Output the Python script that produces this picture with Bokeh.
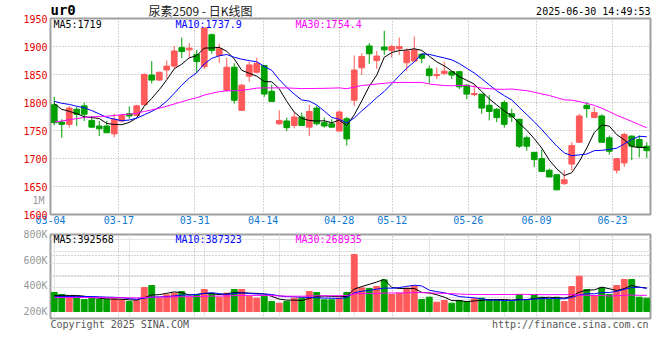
from bokeh.plotting import figure
from bokeh.layouts import column
from bokeh.models import (Range1d, FixedTicker, Label, LinearAxis, ColumnDataSource,
                          CustomJSTickFormatter, Grid)
from bokeh.embed import file_html
from bokeh.resources import INLINE

# ---------------- data ----------------
tick_index = [0, 9, 19, 28, 38, 45, 55, 64, 74]
tick_labels = ["03-04", "03-17", "03-31", "04-14", "04-28", "05-12", "05-26", "06-09", "06-23"]

opens = [1796, 1765, 1761, 1788, 1794, 1768, 1758, 1758, 1744, 1767,
         1780, 1777, 1796, 1849, 1840, 1858, 1865, 1898, 1894, 1886,
         1864, 1921, 1884, 1822, 1863, 1786, 1847, 1854, 1866, 1820,
         1762, 1767, 1759, 1774, 1756, 1790, 1764, 1762, 1749, 1771,
         1804, 1862, 1901, 1875, 1899, 1893, 1896, 1871, 1874, 1886,
         1860, 1848, 1852, 1855, 1855, 1831, 1814, 1815, 1795, 1788,
         1800, 1780, 1770, 1737, 1711, 1700, 1679, 1671, 1655, 1690,
         1729, 1795, 1773, 1776, 1737, 1679, 1692, 1740, 1734, 1722]
highs = [1810, 1770, 1794, 1792, 1800, 1776, 1767, 1767, 1780, 1780,
         1793, 1796, 1852, 1874, 1855, 1875, 1901, 1916, 1906, 1894,
         1934, 1923, 1905, 1880, 1870, 1833, 1873, 1880, 1867, 1832,
         1786, 1773, 1783, 1782, 1796, 1795, 1773, 1770, 1786, 1774,
         1884, 1888, 1906, 1892, 1928, 1903, 1916, 1897, 1918, 1888,
         1866, 1862, 1873, 1856, 1856, 1832, 1832, 1815, 1813, 1790,
         1804, 1789, 1771, 1741, 1711, 1716, 1682, 1671, 1679, 1729,
         1780, 1801, 1792, 1779, 1741, 1700, 1746, 1741, 1741, 1729]
lows = [1759, 1737, 1755, 1758, 1767, 1755, 1740, 1746, 1738, 1764,
        1771, 1776, 1795, 1834, 1839, 1843, 1861, 1879, 1879, 1853,
        1860, 1887, 1871, 1819, 1798, 1786, 1837, 1852, 1810, 1801,
        1760, 1749, 1754, 1758, 1740, 1759, 1755, 1755, 1749, 1723,
        1794, 1849, 1869, 1860, 1885, 1880, 1885, 1856, 1873, 1870,
        1834, 1842, 1849, 1842, 1824, 1806, 1811, 1780, 1768, 1765,
        1755, 1765, 1719, 1714, 1685, 1676, 1667, 1644, 1653, 1679,
        1728, 1773, 1773, 1729, 1707, 1673, 1685, 1697, 1702, 1701]
closes = [1764, 1761, 1790, 1779, 1779, 1756, 1753, 1746, 1770, 1777,
          1776, 1794, 1850, 1840, 1854, 1865, 1892, 1891, 1897, 1873,
          1933, 1893, 1896, 1863, 1804, 1831, 1867, 1870, 1815, 1802,
          1768, 1755, 1774, 1759, 1784, 1762, 1758, 1756, 1783, 1735,
          1858, 1882, 1887, 1883, 1894, 1900, 1900, 1892, 1894, 1879,
          1848, 1850, 1856, 1849, 1828, 1815, 1816, 1790, 1784, 1773,
          1761, 1774, 1722, 1722, 1698, 1677, 1667, 1644, 1662, 1723,
          1776, 1789, 1782, 1729, 1713, 1700, 1743, 1722, 1720, 1714]
volumes = [316000, 283000, 238000, 238000, 199000, 222000, 199000, 199000, 211000, 194000,
           166000, 183000, 399000, 432000, 222000, 277000, 305000, 332000, 238000, 266000,
           366000, 294000, 238000, 305000, 366000, 366000, 249000, 222000, 255000, 166000,
           139000, 166000, 222000, 222000, 332000, 316000, 194000, 194000, 222000, 316000,
           947000, 393000, 382000, 416000, 526000, 283000, 305000, 388000, 416000, 199000,
           238000, 155000, 183000, 139000, 183000, 166000, 211000, 222000, 199000, 199000,
           166000, 166000, 283000, 183000, 283000, 238000, 199000, 238000, 166000, 416000,
           587000, 366000, 266000, 393000, 283000, 432000, 532000, 532000, 238000, 222000]

# sessions before 03-04 (only used to start the moving averages)
pre_closes = [1712, 1718, 1722, 1715, 1726, 1730, 1735, 1728, 1740, 1745,
              1750, 1748, 1758, 1762, 1760, 1770, 1775, 1772, 1782, 1790,
              1795, 1810, 1812, 1805, 1808, 1812, 1808, 1800, 1806]
pre_volumes = [205000, 230000, 212000, 248000, 219000, 226000, 240000, 208000, 215000, 233000,
               221000, 210000, 236000, 228000, 214000, 219000, 242000, 225000, 206000, 231000,
               218000, 237000, 229000, 211000, 224000, 246000, 252000, 238000, 261000]

price_ticks = [1600, 1650, 1700, 1750, 1800, 1850, 1900, 1950]
vol_ticks = [200000, 400000, 600000, 800000]

title_code = "ur0"
title_text = "尿素2509 - 日K线图"
stamp_text = "2025-06-30 14:49:53"
ma_price_text = ["MA5:1719", "MA10:1737.9", "MA30:1754.4"]
ma_vol_text = ["MA5:392568", "MA10:387323", "MA30:268935"]
footer_text = ["Copyright 2025 SINA.COM", "http://finance.sina.com.cn"]
stray_label = "1M"

# ---------------- styling / geometry ----------------
FONT = "DejaVu Sans Mono"
UP, DOWN = "#ff5a5a", "#00a000"
MA_COLORS = ["#000000", "#0000ff", "#ff00ff"]
GRID = "#a8a8a8"
n = len(closes)
xs = list(range(n))

W = 652
HEAD_H = 18                       # header strip height
OVERLAP = 4                       # price panel's top border overlaps the header strip
FL, FW = 50, 600                  # frame left / width on page
FR = W - FL - FW                  # right border
P1_FT, P1_FH = 18, 196            # price frame top / height on page
P2_FT, P2_FH = 234, 84            # volume frame top / height on page
PRICE_LO, PRICE_HI = 1600, 1950
VOL_LO, VOL_HI = -116000, 1280000
CHAR_W = 6.02                     # width of one 10px mono character


def ma(series, pre, w):
    full = pre + series
    off = len(pre)
    return [sum(full[i + off - w + 1:i + off + 1]) / w for i in range(len(series))]


def page_x(px):
    return -0.5 + (px - FL) * n / FW


def p1_y(py):
    return PRICE_HI - (py - P1_FT) * (PRICE_HI - PRICE_LO) / P1_FH


def p2_y(py):
    return VOL_HI - (py - P2_FT) * (VOL_HI - VOL_LO) / P2_FH


def plain_axis(ax, color, standoff):
    ax.axis_line_color = None
    ax.major_tick_line_color = None
    ax.minor_tick_line_color = None
    ax.major_tick_out = 0
    ax.major_tick_in = 0
    ax.major_label_standoff = standoff
    ax.major_label_text_font = FONT
    ax.major_label_text_font_size = "10px"
    ax.major_label_text_color = color


def lookup_formatter(ticks, labels):
    return CustomJSTickFormatter(args=dict(tk=ticks, lab=labels), code="""
        for (let i = 0; i < tk.length; i++) { if (Math.abs(tk[i] - tick) < 1e-6) return lab[i]; }
        return "";
    """)


# date tick positions follow the chart's own slightly wider date scale
date_ticks = [-0.5 + i * n / (n - 1) for i in tick_index]

colors = [UP if c >= o else DOWN for o, c in zip(opens, closes)]
src = ColumnDataSource(dict(x=xs, o=opens, h=highs, l=lows, c=closes,
                            top=[max(o, c) for o, c in zip(opens, closes)],
                            bot=[min(o, c) for o, c in zip(opens, closes)],
                            vol=volumes, color=colors))

# ---------------- header strip (frame spans page x 50..650, y 0..18) ----------------
head = figure(width=W, height=HEAD_H, x_range=Range1d(FL, FL + FW), y_range=Range1d(0, HEAD_H),
              output_backend="svg", toolbar_location=None,
              min_border_left=FL, min_border_right=FR, min_border_top=0, min_border_bottom=0,
              x_axis_location=None, y_axis_location=None)
head.outline_line_color = None
head.grid.visible = False
head.background_fill_color = "white"
head.border_fill_color = "white"
head.add_layout(Label(x=FL, y=HEAD_H - 9.5, text=title_code, text_font=FONT,
                      text_font_size="14px", text_font_style="bold", text_color="#000000",
                      text_baseline="middle", text_align="left"))
head.add_layout(Label(x=200, y=HEAD_H - 9.5, text=title_text, text_font="Noto Sans CJK SC",
                      text_font_size="12px", text_color="#222222",
                      text_baseline="middle", text_align="center"))
head.add_layout(Label(x=FL + FW, y=HEAD_H - 11, text=stamp_text, text_font=FONT,
                      text_font_size="10px", text_color="#000000",
                      text_baseline="middle", text_align="right"))

# ---------------- price panel ----------------
p1 = figure(width=W, height=OVERLAP + P1_FH + 14, x_range=Range1d(-0.5, n - 0.5),
            y_range=Range1d(PRICE_LO, PRICE_HI), output_backend="svg",
            toolbar_location=None, min_border_left=FL, min_border_right=FR,
            min_border_top=OVERLAP, min_border_bottom=14, margin=(-OVERLAP, 0, 0, 0))
p1.outline_line_color = "#a0a0a0"
p1.outline_line_width = 2
p1.background_fill_color = "white"
p1.border_fill_alpha = 0

p1.xaxis.ticker = FixedTicker(ticks=date_ticks)
p1.xaxis.formatter = lookup_formatter(date_ticks, tick_labels)
plain_axis(p1.xaxis[0], "#0a78d2", 1)
p1.yaxis.ticker = FixedTicker(ticks=price_ticks)
plain_axis(p1.yaxis[0], "#e80000", 3)

# grey "1M" mark printed left of the price frame: an outer axis whose labels are
# pulled back next to the frame
m_tick = [p1_y(199.5)]
m_axis = LinearAxis(ticker=FixedTicker(ticks=m_tick), formatter=lookup_formatter(m_tick, [stray_label]))
plain_axis(m_axis, "#999999", -24)
p1.add_layout(m_axis, "left")

p1.xgrid.ticker = FixedTicker(ticks=date_ticks)
p1.ygrid.ticker = FixedTicker(ticks=price_ticks)
for g in (p1.xgrid, p1.ygrid):
    g.grid_line_color = GRID
    g.grid_line_dash = "1 2"
    g.grid_line_width = 1

p1.segment(x0="x", y0="l", x1="x", y1="h", line_color="color", line_width=1, source=src)
p1.vbar(x="x", width=0.76, top="top", bottom="bot", fill_color="color",
        line_color="color", line_width=1, source=src)
for w, col in zip([5, 10, 30], MA_COLORS):
    p1.line(xs, ma(closes, pre_closes, w), line_color=col, line_width=1)

for txt, px, col in zip(ma_price_text, [53, 175, 295], MA_COLORS):
    p1.add_layout(Label(x=page_x(px), y=p1_y(23.5), text=txt, text_font=FONT,
                        text_font_size="10px", text_color=col,
                        text_baseline="middle", text_align="left"))

# ---------------- volume panel ----------------
p2 = figure(width=W, height=6 + P2_FH + 14, x_range=p1.x_range,
            y_range=Range1d(VOL_LO, VOL_HI), output_backend="svg",
            toolbar_location=None, min_border_left=FL, min_border_right=FR,
            min_border_top=6, min_border_bottom=14,
            x_axis_location=None, y_axis_location=None)
p2.outline_line_color = "#a0a0a0"
p2.outline_line_width = 2
p2.background_fill_color = "white"
p2.border_fill_color = "white"

# label scale of the volume axis as printed in the chart
p2.extra_y_ranges = {"vlab": Range1d(145454, 800500)}
vax = LinearAxis(y_range_name="vlab", ticker=FixedTicker(ticks=vol_ticks),
                 formatter=CustomJSTickFormatter(code="return (tick/1000).toFixed(0) + 'K';"))
plain_axis(vax, "#999999", 3)
p2.add_layout(vax, "left")

# footer texts as labels of a bottom axis
foot_ticks = [page_x(FL + len(footer_text[0]) * CHAR_W / 2),
              page_x(648 - len(footer_text[1]) * CHAR_W / 2)]
fax = LinearAxis(ticker=FixedTicker(ticks=foot_ticks),
                 formatter=lookup_formatter(foot_ticks, footer_text))
plain_axis(fax, "#555555", 0)
p2.add_layout(fax, "below")

quarter = [VOL_LO + k * (VOL_HI - VOL_LO) / 4 for k in (1, 2, 3)]
p2.add_layout(Grid(dimension=0, ticker=FixedTicker(ticks=date_ticks), grid_line_color=GRID,
                   grid_line_dash="1 2", grid_line_width=1))
p2.add_layout(Grid(dimension=1, ticker=FixedTicker(ticks=quarter), grid_line_color=GRID,
                   grid_line_dash="1 2", grid_line_width=1))

p2.vbar(x="x", width=0.78, top="vol", bottom=0, fill_color="color",
        line_color="color", line_width=1, source=src)
for w, col in zip([5, 10, 30], MA_COLORS):
    p2.line(xs, ma(volumes, pre_volumes, w), line_color=col, line_width=1)

for txt, px, col in zip(ma_vol_text, [53, 175, 295], MA_COLORS):
    p2.add_layout(Label(x=page_x(px), y=p2_y(238.5), text=txt, text_font=FONT,
                        text_font_size="10px", text_color=col,
                        text_baseline="middle", text_align="left"))

layout = column(head, p1, p2, spacing=0)
open("out.html", "w").write(file_html(layout, INLINE))
